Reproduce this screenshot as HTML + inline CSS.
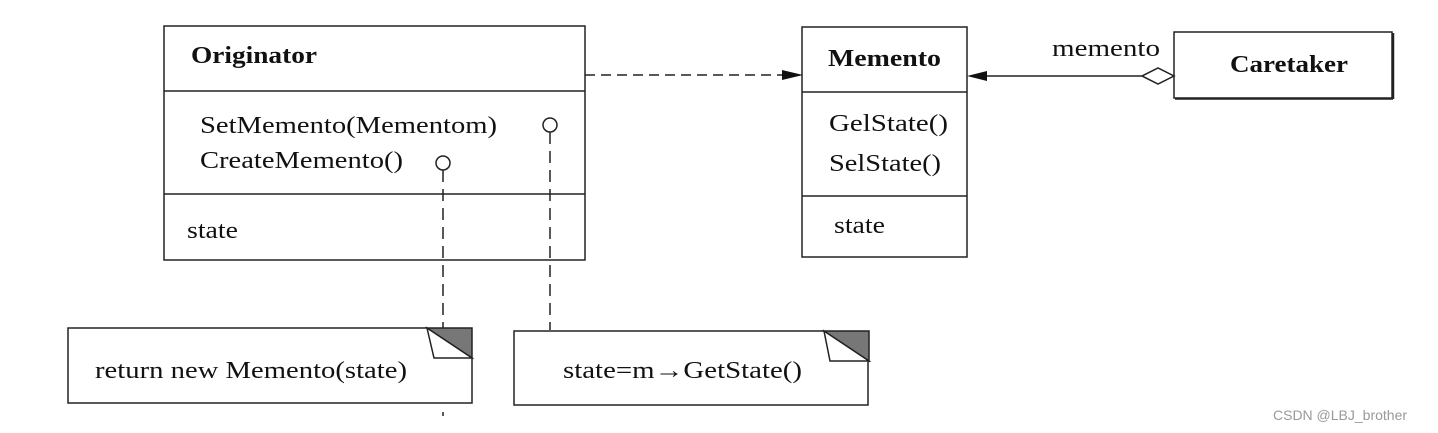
<!DOCTYPE html>
<html><head><meta charset="utf-8"><style>
html,body{margin:0;padding:0;background:#fff;}
svg{display:block;}
text{font-family:"Liberation Serif",serif;fill:#111;}
</style></head><body>
<svg width="1438" height="433" viewBox="0 0 1438 433" xmlns="http://www.w3.org/2000/svg">
<g stroke="#222" stroke-width="1.5" fill="none">
<rect x="164" y="26" width="421" height="234"/>
<line x1="164" y1="91" x2="585" y2="91"/>
<line x1="164" y1="194" x2="585" y2="194"/>
<rect x="802" y="27" width="165" height="230"/>
<line x1="802" y1="92" x2="967" y2="92"/>
<line x1="802" y1="196" x2="967" y2="196"/>
<rect x="1174" y="32" width="218" height="66"/>
<line x1="1393" y1="33" x2="1393" y2="99" stroke-width="2.5"/>
<line x1="1175" y1="99" x2="1393" y2="99" stroke-width="1.5"/>
<line x1="585" y1="75" x2="782" y2="75" stroke-dasharray="10,6"/>
<line x1="985" y1="76" x2="1142" y2="76"/>
<polygon points="1142,76 1158,68 1174,76 1158,84" fill="#fff"/>
<circle cx="550" cy="125" r="7"/>
<circle cx="443" cy="163" r="7"/>
<line x1="550" y1="132" x2="550" y2="330" stroke-dasharray="12,7"/>
<line x1="443" y1="170" x2="443" y2="328" stroke-dasharray="12,7"/>
<line x1="443" y1="412" x2="443" y2="416"/>
<polyline points="427,328 68,328 68,403 472,403 472,358"/>
<polyline points="824,331 514,331 514,405 868,405 868,361"/>
</g>
<polygon points="782,70 803,75 782,80" fill="#111"/>
<polygon points="987,71 967,76 987,81" fill="#111"/>
<polygon points="427,328 472,328 472,358" fill="#777" stroke="#222" stroke-width="1.5"/>
<polygon points="427,328 434,358 472,358" fill="#fff" stroke="#222" stroke-width="1.5"/>
<polygon points="824,331 869,331 869,361" fill="#777" stroke="#222" stroke-width="1.5"/>
<polygon points="824,331 830,361 869,361" fill="#fff" stroke="#222" stroke-width="1.5"/>
<g font-size="24">
<text x="191" y="63" font-weight="bold" textLength="126" lengthAdjust="spacingAndGlyphs">Originator</text>
<text x="200" y="133" textLength="297" lengthAdjust="spacingAndGlyphs">SetMemento(Mementom)</text>
<text x="200" y="168" textLength="203" lengthAdjust="spacingAndGlyphs">CreateMemento()</text>
<text x="187" y="238" textLength="51" lengthAdjust="spacingAndGlyphs">state</text>
<text x="828" y="66" font-weight="bold" textLength="113" lengthAdjust="spacingAndGlyphs">Memento</text>
<text x="829" y="131" textLength="119" lengthAdjust="spacingAndGlyphs">GelState()</text>
<text x="829" y="171" textLength="112" lengthAdjust="spacingAndGlyphs">SelState()</text>
<text x="834" y="233" textLength="51" lengthAdjust="spacingAndGlyphs">state</text>
<text x="1052" y="56" textLength="108" lengthAdjust="spacingAndGlyphs">memento</text>
<text x="1230" y="72" font-weight="bold" textLength="118" lengthAdjust="spacingAndGlyphs">Caretaker</text>
<text x="95" y="378" textLength="312" lengthAdjust="spacingAndGlyphs">return new Memento(state)</text>
<text x="563" y="378" textLength="239" lengthAdjust="spacingAndGlyphs">state=m→GetState()</text>
</g>
<text x="1273" y="420" font-size="14" style="font-family:'Liberation Sans',sans-serif;fill:#999">CSDN @LBJ_brother</text>
</svg>
</body></html>
